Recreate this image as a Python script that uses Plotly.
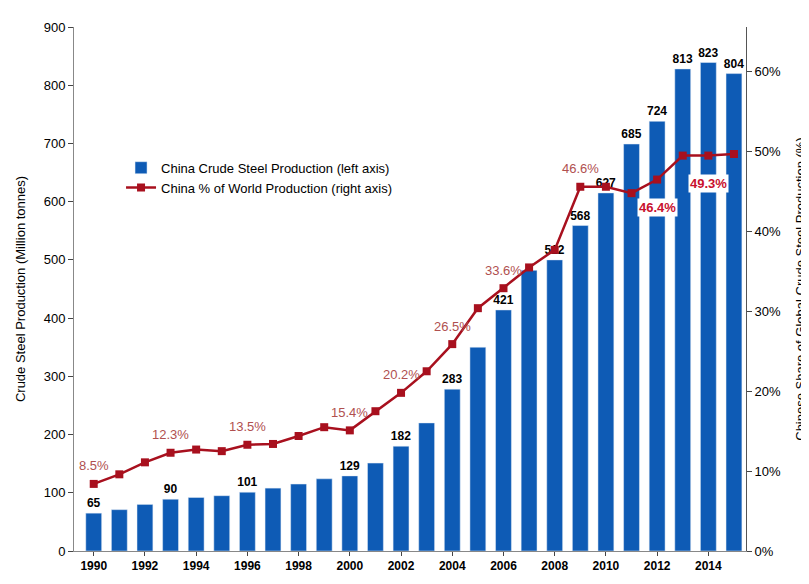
import plotly.graph_objects as go

years = list(range(1990, 2016))
production = [65, 71, 80, 89, 92, 95, 101, 108, 115, 124, 129, 151, 180, 220, 278, 350, 414, 482, 500, 559, 615, 699, 738, 828, 839, 820]
bar_labels = ["65", "", "", "90", "", "", "101", "", "", "", "129", "", "182", "", "283", "", "421", "", "512", "568", "627", "685", "724", "813", "823", "804"]
share = [8.4, 9.6, 11.1, 12.3, 12.7, 12.5, 13.3, 13.4, 14.4, 15.5, 15.1, 17.5, 19.8, 22.5, 25.9, 30.4, 32.9, 35.5, 37.7, 45.6, 45.6, 44.8, 46.5, 49.5, 49.5, 49.7]
share_labels = {1990: "8.5%", 1993: "12.3%", 1996: "13.5%", 2000: "15.4%", 2002: "20.2%",
                2004: "26.5%", 2006: "33.6%", 2009: "46.6%"}
boxed_labels = {2012: "46.4%", 2014: "49.3%"}
right_ticks = [0, 10, 20, 30, 40, 50, 60]

fig = go.Figure()
fig.add_trace(go.Bar(x=years, y=production, name="China Crude Steel Production (left axis)",
                     marker_color="#0E5BB5", width=0.62, text=["<b>" + t + "</b>" if t else "" for t in bar_labels],
                     textposition="outside", constraintext="none",
                     textfont=dict(size=12, color="black", family="Liberation Sans"), cliponaxis=False))
fig.add_trace(go.Scatter(x=years, y=share, yaxis="y2", name="China % of World Production (right axis)",
                         mode="lines+markers", line=dict(color="#A8101E", width=2.5),
                         marker=dict(symbol="square", size=8, color="#A8101E")))
for yr, t in share_labels.items():
    fig.add_annotation(x=yr, y=share[yr - 1990], yref="y2", text=t, showarrow=False, yshift=18,
                       font=dict(size=13, color="#B0504F", family="Liberation Sans"))
for yr, t in boxed_labels.items():
    fig.add_annotation(x=yr, y=share[yr - 1990], yref="y2", text="<b>" + t + "</b>", showarrow=False, yshift=-28,
                       bgcolor="white", font=dict(size=13, color="#C8102E", family="Liberation Sans"))

fig.update_layout(
    width=809, height=584, plot_bgcolor="white", paper_bgcolor="white",
    margin=dict(l=58, r=67, t=15, b=41), bargap=0.3, uniformtext=dict(mode=False),
    font=dict(family="Liberation Sans", size=12, color="black"),
    legend=dict(x=0.07, y=0.76, xanchor="left", yanchor="top", bgcolor="rgba(0,0,0,0)",
                font=dict(size=13), tracegroupgap=14),
    xaxis=dict(range=[1989.23, 2015.47], tickvals=list(range(1990, 2015, 2)),
               tickfont=dict(size=12, family="Liberation Sans", weight="bold"),
               showline=True, linecolor="#888", ticks="outside", ticklen=4, showgrid=False),
    yaxis=dict(range=[0, 900], dtick=100, title=dict(text="Crude Steel Production (Million tonnes)", font=dict(size=13)),
               showline=True, linecolor="#888", showgrid=False, ticks="outside", tickfont=dict(size=13)),
    yaxis2=dict(range=[0, 65.6], tickvals=right_ticks, ticktext=[f"{v}%" for v in right_ticks],
                overlaying="y", side="right",
                title=dict(text="Chinese Share of Global Crude Steel Production (%)", font=dict(size=13)),
                showline=True, linecolor="#555", showgrid=False, ticks="outside", tickfont=dict(size=13)),
)
fig.write_html("out.html")
